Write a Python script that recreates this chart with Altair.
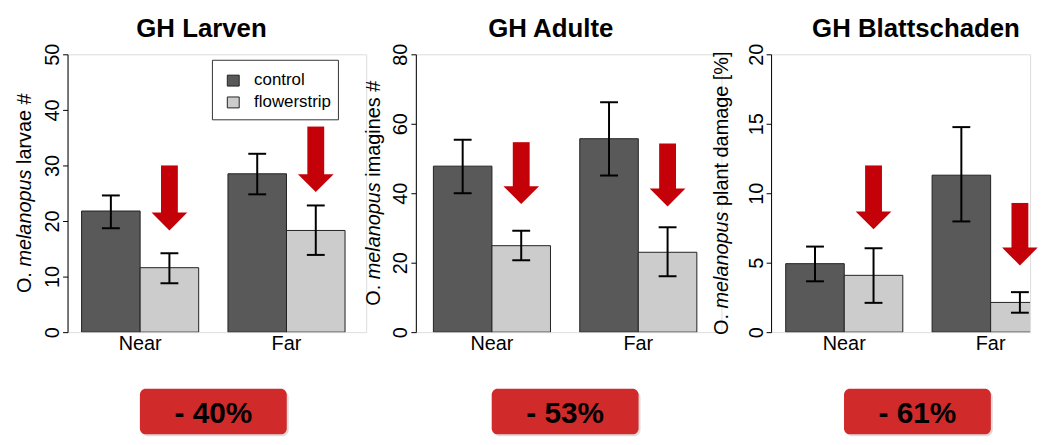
import altair as alt
import pandas as pd

FONT = "Liberation Sans"

categories = ["Near", "Far"]
groups = ["control", "flowerstrip"]
group_colors = ["#595959", "#cccccc"]

panel_titles = ["GH Larven", "GH Adulte", "GH Blattschaden"]
ylab_prefix = "O."
ylab_species = "melanopus"
ylab_suffix = ["larvae #", "imagines #", "plant damage [%]"]
y_max = [50, 80, 20]
y_step = [10, 20, 5]

# bar order: Near-control, Near-flowerstrip, Far-control, Far-flowerstrip
larven_mean = [21.8, 11.6, 28.5, 18.3]
larven_low = [18.7, 8.8, 24.8, 13.9]
larven_high = [24.6, 14.2, 32.1, 22.8]

adulte_mean = [47.8, 24.9, 55.7, 23.0]
adulte_low = [40.0, 20.7, 45.1, 16.1]
adulte_high = [55.4, 29.2, 66.2, 30.2]

blatt_mean = [4.93, 4.09, 11.3, 2.14]
blatt_low = [3.66, 2.11, 7.97, 1.40]
blatt_high = [6.16, 6.04, 14.76, 2.88]

# red arrows: start (top) and tip, per category (Near, Far)
larven_arrow_start = [30.0, 37.0]
larven_arrow_tip = [18.3, 25.2]
adulte_arrow_start = [54.7, 54.3]
adulte_arrow_tip = [36.9, 36.2]
blatt_arrow_start = [12.0, 9.3]
blatt_arrow_tip = [7.4, 4.8]

reductions = ["- 40%", "- 53%", "- 61%"]

# ---------------------------------------------------------------- layout
BAR_PX = 59.0          # pixels per bar width unit
H = 280
RED = "#c40008"
BADGE = "#d02a2a"

# Arial / Liberation Sans advance widths (per 1000 em)
ADV = {"O": 778, ".": 278, " ": 278, "m": 833, "e": 556, "l": 222, "a": 556,
       "n": 556, "o": 556, "p": 556, "u": 556, "s": 500, "r": 333, "v": 500,
       "#": 556, "i": 222, "g": 556, "t": 278, "d": 556, "[": 278, "%": 889,
       "]": 278}


def text_w(s, size):
    return sum(ADV.get(c, 556) for c in s) / 1000.0 * size


def make_panel(k, mean, low, high, a_start, a_tip, x0, W, title_x, ytitle_x,
               with_legend=False):
    rows = []
    for ci, cat in enumerate(categories):
        for gi, grp in enumerate(groups):
            i = 2 * ci + gi
            left = 0.5 + 2.5 * ci + gi
            rows.append({"cat": cat, "grp": grp, "left": left, "right": left + 1,
                         "mid": left + 0.5, "mean": mean[i], "low": low[i],
                         "high": high[i], "zero": 0.0})
    bars_df = pd.DataFrame(rows)
    cap = 9.0 / BAR_PX
    bars_df["cl"] = bars_df["mid"] - cap
    bars_df["cr"] = bars_df["mid"] + cap

    arr_rows = []
    for ci, cat in enumerate(categories):
        mid = 0.5 + 2.5 * ci + 1.5
        arr_rows.append({"cat": cat, "mid": mid, "sl": mid - 8.5 / BAR_PX,
                         "sr": mid + 8.5 / BAR_PX, "start": a_start[ci],
                         "tip": a_tip[ci]})
    arr_df = pd.DataFrame(arr_rows)

    lab_df = pd.DataFrame({"cat": categories,
                           "center": [0.5 + 2.5 * ci + 1.0 for ci in range(len(categories))]})

    bc = (0.5 + (0.5 + 2.5 * (len(categories) - 1) + 2.0)) / 2.0
    half = 74.0 / BAR_PX
    badge_df = pd.DataFrame({"label": [reductions[k]], "bc": [bc],
                             "bl": [bc - half], "br": [bc + half]})

    xs = alt.Scale(domain=[x0, x0 + W / BAR_PX], nice=False, zero=False)
    ys = alt.Scale(domain=[0, y_max[k]], nice=False, zero=True)
    yaxis = alt.Axis(values=list(range(0, y_max[k] + 1, y_step[k])), title=None,
                     grid=False, domainColor="black", tickColor="black",
                     tickSize=5, labelAngle=270, labelAlign="center",
                     labelBaseline="alphabetic", labelPadding=4,
                     labelFontSize=20, labelColor="black", labelFont=FONT,
                     domainWidth=1, tickWidth=1)
    colors = alt.Scale(domain=groups, range=group_colors)

    def X(f):
        return alt.X(f, scale=xs, axis=None)

    def Y(f):
        return alt.Y(f, scale=ys, axis=yaxis)

    bars = alt.Chart(bars_df).mark_bar(stroke="#222222", strokeWidth=1,
                                       clip=True).encode(
        x=X("left:Q"), x2="right:Q", y=Y("mean:Q"), y2="zero:Q",
        color=alt.Color("grp:N", scale=colors, legend=None))
    err = alt.Chart(bars_df).mark_rule(color="black", strokeWidth=2).encode(
        x=X("mid:Q"), y=Y("low:Q"), y2="high:Q")
    cap_lo = alt.Chart(bars_df).mark_rule(color="black", strokeWidth=2).encode(
        x=X("cl:Q"), x2="cr:Q", y=Y("low:Q"))
    cap_hi = alt.Chart(bars_df).mark_rule(color="black", strokeWidth=2).encode(
        x=X("cl:Q"), x2="cr:Q", y=Y("high:Q"))
    shaft = alt.Chart(arr_df).mark_rect(color=RED, y2Offset=-16).encode(
        x=X("sl:Q"), x2="sr:Q", y=Y("start:Q"), y2="tip:Q")
    head = alt.Chart(arr_df).mark_point(shape="M-1,-1L1,-1L0,0Z", size=36 * 36,
                                        filled=True, color=RED, opacity=1,
                                        strokeWidth=0).encode(
        x=X("mid:Q"), y=Y("tip:Q"))
    xlabels = alt.Chart(lab_df).mark_text(fontSize=20, font=FONT, color="black",
                                          baseline="alphabetic").encode(
        x=X("center:Q"), y=alt.value(H + 18), text="cat:N")

    title = alt.Chart(pd.DataFrame({"t": [panel_titles[k]]})).mark_text(
        fontSize=26, fontWeight="bold", font=FONT, color="black",
        baseline="alphabetic", align="center").encode(
        x=alt.value(title_x), y=alt.value(-17), text="t:N")

    # y-axis title: "O. melanopus ..." with the species name in italics
    pieces = [(ylab_prefix, "normal"), (ylab_species, "italic"),
              (ylab_suffix[k], "normal")]
    space = text_w(" ", 20)
    total = sum(text_w(p, 20) for p, _ in pieces) + space * (len(pieces) - 1)
    ypos = H / 2.0 + total / 2.0
    ytitle_layers = []
    for txt, style in pieces:
        ytitle_layers.append(
            alt.Chart(pd.DataFrame({"t": [txt]})).mark_text(
                fontSize=20, font=FONT, fontStyle=style, color="black",
                angle=270, align="left", baseline="alphabetic").encode(
                x=alt.value(ytitle_x), y=alt.value(ypos), text="t:N"))
        ypos -= text_w(txt, 20) + space

    shadow = alt.Chart(badge_df).mark_rect(color="#dddddd", cornerRadius=7,
                                           xOffset=2, x2Offset=2).encode(
        x=X("bl:Q"), x2="br:Q", y=alt.value(H + 59), y2=alt.value(H + 105))
    badge = alt.Chart(badge_df).mark_rect(color=BADGE, cornerRadius=6).encode(
        x=X("bl:Q"), x2="br:Q", y=alt.value(H + 57), y2=alt.value(H + 103))
    badge_txt = alt.Chart(badge_df).mark_text(
        fontSize=30, fontWeight="bold", font=FONT, color="black",
        baseline="alphabetic").encode(
        x=X("bc:Q"), y=alt.value(H + 92), text="label:N")

    layers = [bars, err, cap_lo, cap_hi, shaft, head, xlabels, title] + \
        ytitle_layers + [shadow, badge, badge_txt]

    if with_legend:
        box = alt.Chart(pd.DataFrame({"b": [1]})).mark_rect(
            fill="white", stroke="#333333", strokeWidth=1).encode(
            x=alt.value(146), x2=alt.value(273), y=alt.value(6),
            y2=alt.value(66))
        layers.append(box)
        for gi, grp in enumerate(groups):
            cy = 26 + 22 * gi
            gdf = pd.DataFrame({"grp": [grp]})
            sw = alt.Chart(gdf).mark_rect(stroke="#222222", strokeWidth=1).encode(
                x=alt.value(161), x2=alt.value(173), y=alt.value(cy - 5),
                y2=alt.value(cy + 6),
                color=alt.Color("grp:N", scale=colors, legend=None))
            lt = alt.Chart(gdf).mark_text(fontSize=17, font=FONT, color="black",
                                          align="left", baseline="middle").encode(
                x=alt.value(188), y=alt.value(cy), text="grp:N")
            layers += [sw, lt]

    return alt.layer(*layers).properties(width=W, height=H)


p1 = make_panel(0, larven_mean, larven_low, larven_high, larven_arrow_start,
                larven_arrow_tip, 0.26, 301, 135, -37, with_legend=True)
p2 = make_panel(1, adulte_mean, adulte_low, adulte_high, adulte_arrow_start,
                adulte_arrow_tip, 0.20, 308, 136, -36)
p3 = make_panel(2, blatt_mean, blatt_low, blatt_high, blatt_arrow_start,
                blatt_arrow_tip, 0.25, 261, 146, -43)

chart = alt.hconcat(p1, p2, p3, spacing=50, bounds="flush").properties(
    padding={"left": 6, "top": 6, "right": 0, "bottom": 0},
    background="white",
).configure_view(strokeWidth=0).configure(font=FONT)

chart.save("out.html", embed_options={"renderer": "svg", "actions": False})
